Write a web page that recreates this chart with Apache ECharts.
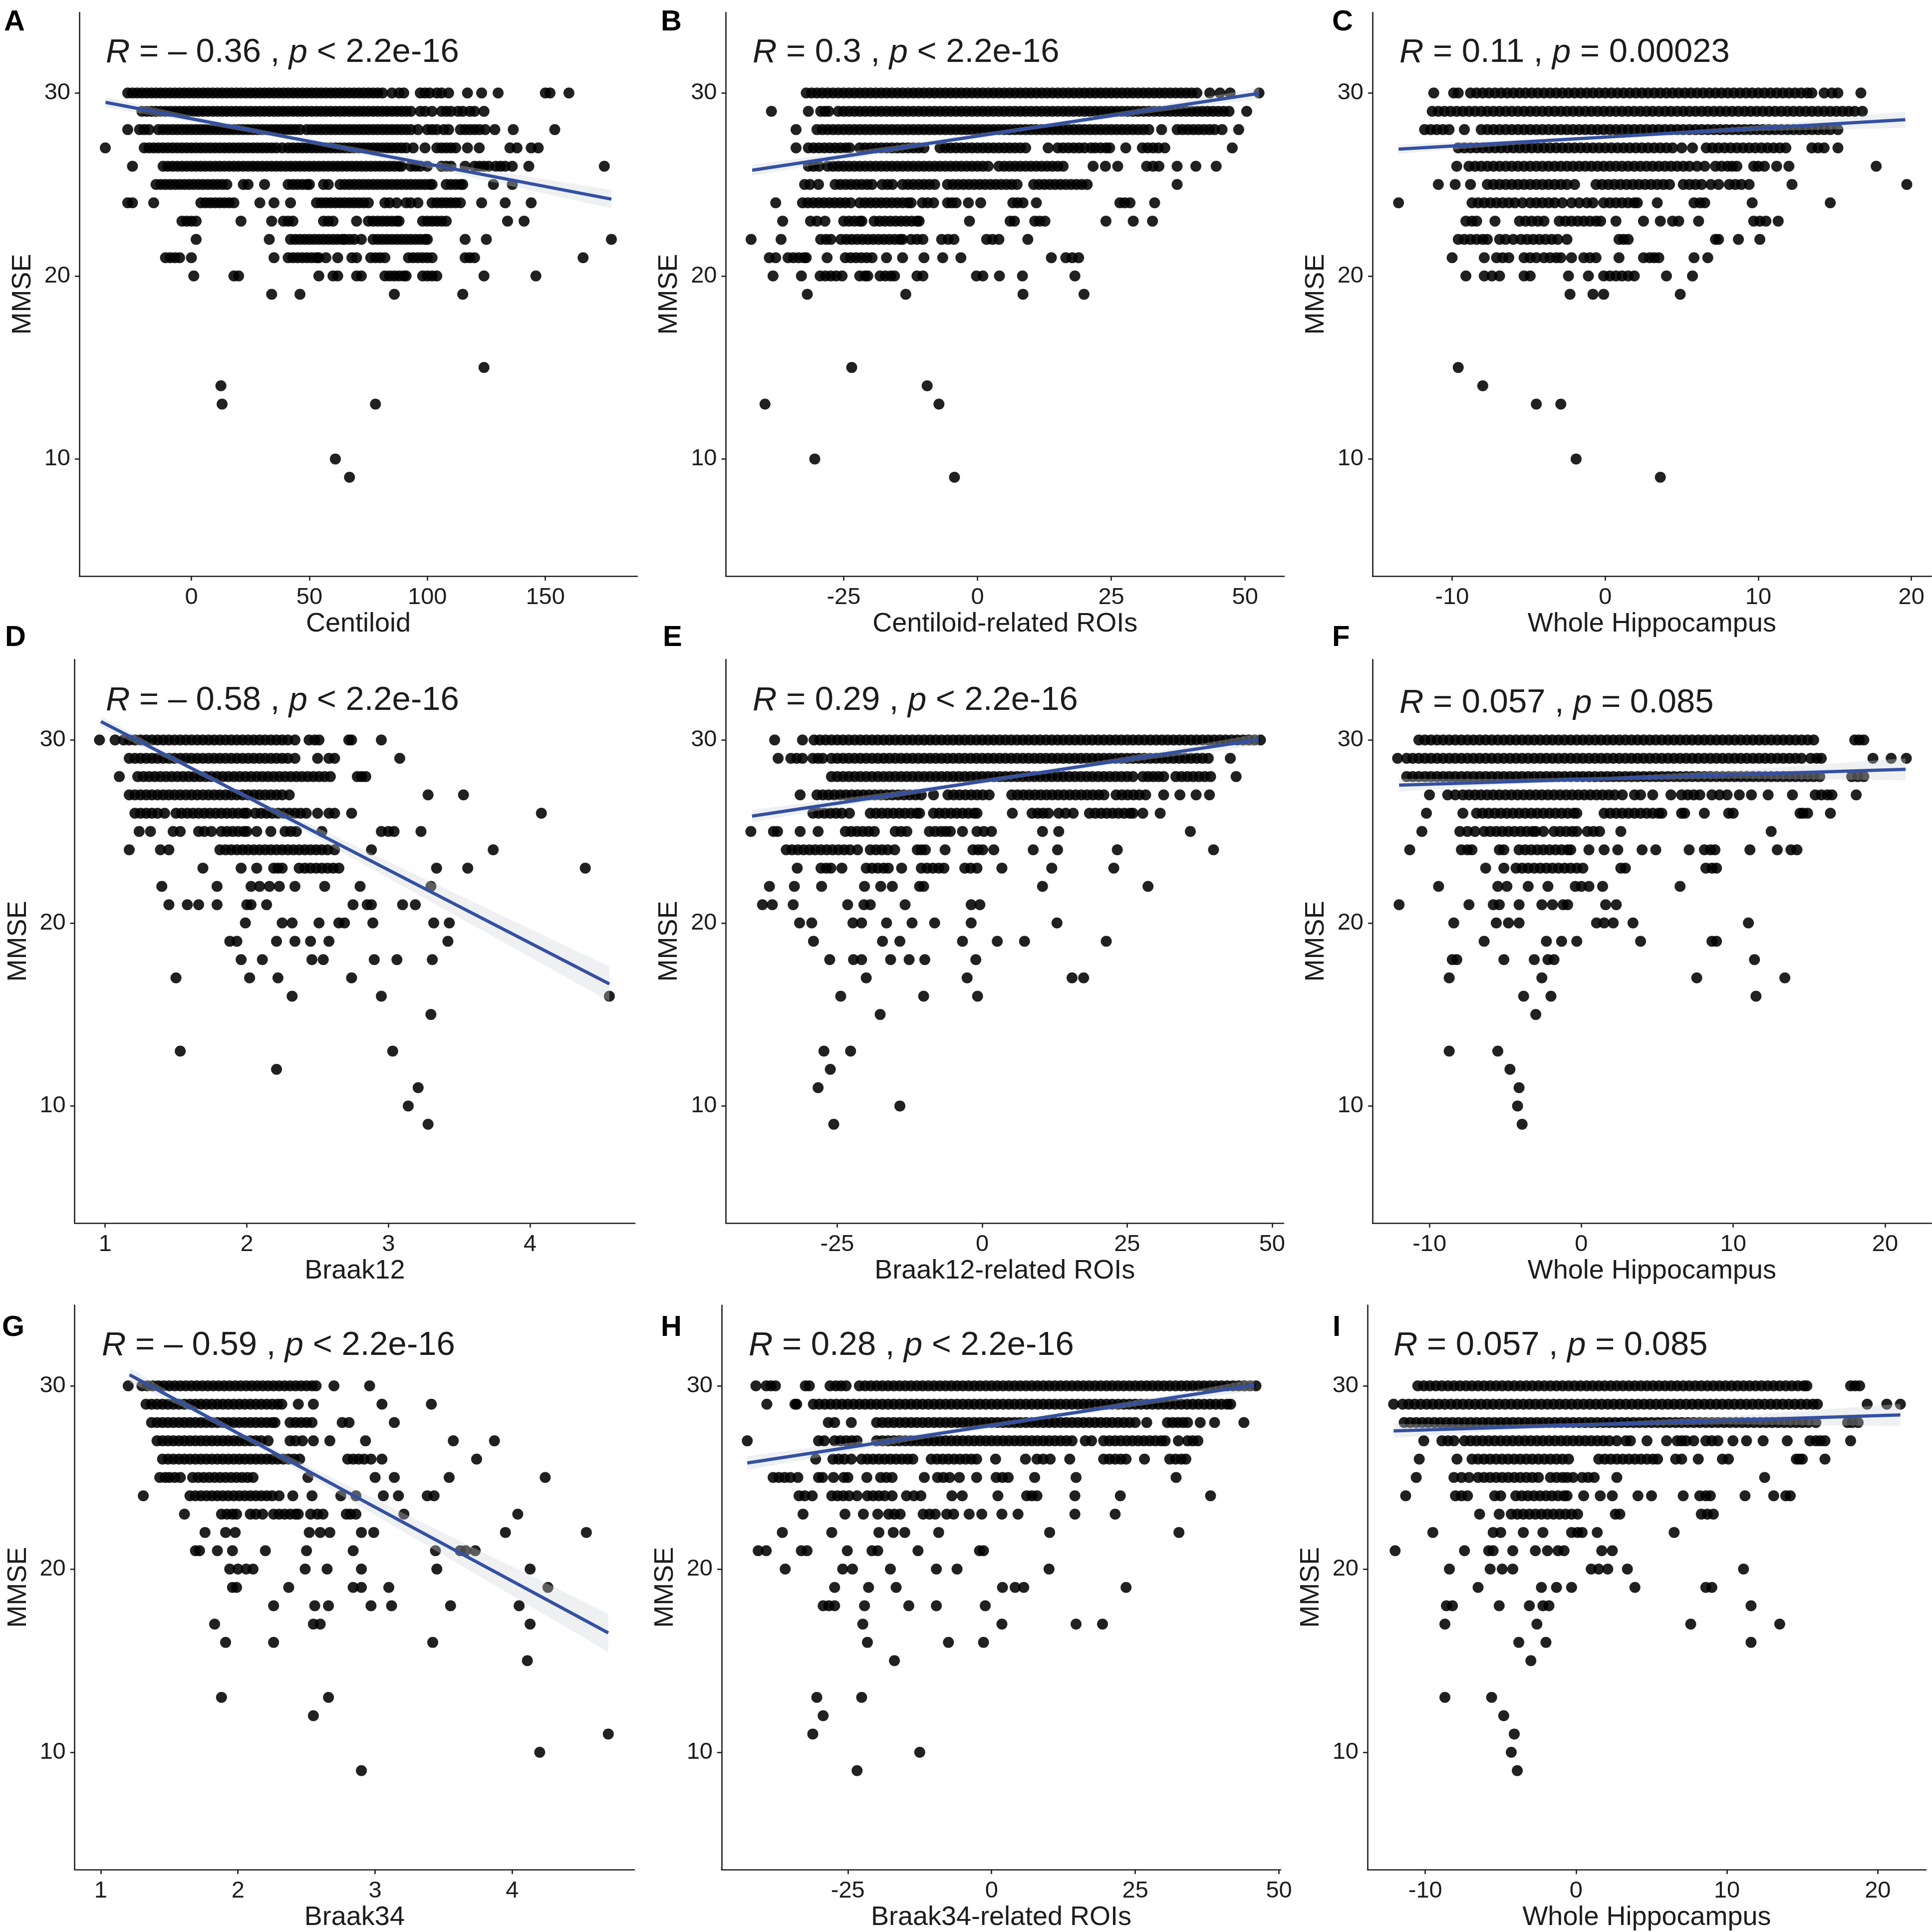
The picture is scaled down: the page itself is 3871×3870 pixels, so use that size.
<!DOCTYPE html>
<html>
<head>
<meta charset="utf-8">
<script src="https://cdn.jsdelivr.net/npm/echarts@6/dist/echarts.min.js"></script>
<style>
  html, body { margin: 0; padding: 0; background: #fff; }
  #chart { width: 3871px; height: 3870px; }
</style>
</head>
<body>
<div id="chart"></div>
<script>
// MMSE vs. imaging measures, panels A-I

const letters = ['A', 'B', 'C', 'D', 'E', 'F', 'G', 'H', 'I'];
const xTitles = ['Centiloid', 'Centiloid-related ROIs', 'Whole Hippocampus',
  'Braak12', 'Braak12-related ROIs', 'Whole Hippocampus',
  'Braak34', 'Braak34-related ROIs', 'Whole Hippocampus'];
const rValues = ['\u2013 0.36', '0.3', '0.11', '\u2013 0.58', '0.29', '0.057', '\u2013 0.59', '0.28', '0.057'];
const pValues = ['< 2.2e-16', '< 2.2e-16', '= 0.00023', '< 2.2e-16', '< 2.2e-16', '= 0.085', '< 2.2e-16', '< 2.2e-16', '= 0.085'];

const xTicks = [[0, 50, 100, 150], [-25, 0, 25, 50], [-10, 0, 10, 20],
  [1, 2, 3, 4], [-25, 0, 25, 50], [-10, 0, 10, 20],
  [1, 2, 3, 4], [-25, 0, 25, 50], [-10, 0, 10, 20]];
const xLimits = [[-47.5, 189], [-47, 57.3], [-15.2, 21.3],
  [0.785, 4.74], [-44.2, 52], [-13.75, 23.05],
  [0.81, 4.89], [-46.95, 50.3], [-13.83, 23.2]];
const mmseTicks = [10, 20, 30];
const mmseLimits = [3.6, 34.4];

// fitted line end points [x0, y0, x1, y1]
const fitLines = [
  [-36.4, 29.49, 178, 24.2],
  [-42.1, 25.78, 52.6, 29.98],
  [-13.5, 26.93, 19.6, 28.54],
  [0.97, 31.01, 4.56, 16.67],
  [-39.7, 25.84, 47.7, 30.02],
  [-12.0, 27.53, 21.35, 28.4],
  [1.21, 30.6, 4.7, 16.52],
  [-42.5, 25.79, 45.7, 30.04],
  [-12.1, 27.54, 21.5, 28.41]
];
// confidence band half width read at a few x positions [x, halfWidth]
const bandWidths = [
  [[-36.4, 0.28], [0, 0.17], [40, 0.12], [100, 0.2], [178, 0.5]],
  [[-42.1, 0.3], [-15, 0.16], [10, 0.11], [30, 0.16], [52.6, 0.3]],
  [[-13.5, 0.25], [-5, 0.12], [2, 0.08], [10, 0.15], [19.6, 0.45]],
  [[0.97, 0.3], [1.5, 0.16], [2, 0.13], [3, 0.45], [4.56, 0.95]],
  [[-39.7, 0.33], [-15, 0.16], [8, 0.11], [30, 0.18], [47.7, 0.32]],
  [[-12, 0.35], [-5, 0.16], [2, 0.1], [10, 0.22], [21.35, 0.6]],
  [[1.21, 0.4], [1.6, 0.2], [2.1, 0.15], [3.2, 0.5], [4.7, 1.05]],
  [[-42.5, 0.38], [-15, 0.17], [8, 0.11], [30, 0.18], [45.7, 0.33]],
  [[-12.1, 0.38], [-5, 0.16], [2, 0.1], [10, 0.22], [21.5, 0.6]]
];

// points: [MMSE, [x values]]
const rowsA = [
  [30, [-27, -25, -23, -21, -19, -17, -15, -13, -11, -9, -7, -5, -3, -1, 1, 3, 5, 7, 9, 11, 13, 15, 17, 19, 21, 23, 25, 27, 29, 31, 33, 35, 37, 39, 41, 43, 45, 47, 49, 51, 53, 55, 57, 59, 61, 63, 65, 67, 69, 71, 73, 75, 77, 79, 81, 85, 88, 90, 97, 99, 101, 104, 106, 109, 117, 123, 130, 150, 152, 160]],
  [29, [-21, -19, -17, -15, -13, -11, -9, -7, -5, -3, -1, 1, 3, 5, 7, 9, 11, 13, 15, 17, 19, 21, 23, 25, 27, 29, 31, 33, 35, 37, 39, 41, 43, 45, 47, 49, 51, 53, 55, 57, 59, 61, 63, 65, 67, 69, 71, 73, 75, 77, 79, 81, 83, 85, 87, 89, 91, 93, 97, 99, 102, 106, 108, 110, 113, 115, 118, 120, 124]],
  [28, [-27, -22, -20, -18, -14, -12, -10, -8, -6, -4, -2, 0, 2, 4, 6, 8, 10, 12, 14, 16, 18, 20, 22, 24, 26, 28, 30, 32, 34, 36, 38, 40, 42, 44, 46, 49, 51, 53, 55, 57, 59, 61, 63, 65, 67, 69, 71, 73, 75, 77, 79, 81, 83, 85, 87, 89, 91, 93, 96, 100, 102, 104, 107, 109, 114, 116, 118, 120, 122, 124.5, 128.6, 136.4, 154]],
  [27, [-36.5, -20, -18, -16, -14, -12, -10, -8, -6, -4, -2, 0, 2, 4, 6, 8, 10, 12, 14, 16, 18, 20, 22, 24, 26, 28, 30, 32, 34, 36, 38.5, 41, 43, 45, 47, 49, 51, 53, 55, 57, 59, 61, 63, 65, 67, 69, 71, 73, 75, 77, 79, 81, 83, 85, 87, 89, 91, 94, 99, 104, 106, 108, 110, 112, 117, 122, 135, 138, 144, 147]],
  [26, [-25, -12, -10, -8, -6, -4, -2, 0, 2, 4, 6, 8, 10, 12, 14, 16, 18, 20, 22, 24, 26, 28, 30, 32, 34, 36, 38, 40, 42, 44, 46, 48, 50, 52, 54, 56, 58, 60, 62, 64, 66, 68, 70, 72, 74, 76, 78, 80, 82, 84, 86, 88, 89, 93, 95, 97, 100, 106, 108, 110, 116, 120, 122, 124, 126, 129, 131, 133, 136, 143, 175]],
  [25, [-15, -13, -11, -9, -7, -5, -3, -1, 1, 3, 5, 7, 9, 11, 13, 15, 22, 24, 31, 41, 43, 45, 47, 49, 50, 56, 58, 63, 65, 67, 69, 71, 73, 75, 77, 79, 81, 83, 85, 87, 89, 91, 93, 95, 97, 99, 101, 102, 108, 110, 112, 114, 115, 128, 136]],
  [24, [-27, -25, -16, 4, 6, 8, 10, 12, 14, 16, 18, 29, 35, 42, 53, 55, 57, 59, 61, 63, 65, 67, 69, 71, 73, 75, 82, 84, 87, 91, 93, 96, 102, 104, 106, 108, 110, 112, 114, 123, 133, 144]],
  [23, [-4, -2, 0, 2, 21, 34, 39, 41, 43, 56, 58, 60, 70, 75, 77, 79, 81, 83, 85, 87, 88, 98, 100, 102, 104, 106, 108, 134, 141]],
  [22, [2, 33, 42, 44, 46, 48, 50, 52, 54, 56, 58, 60, 62, 64, 65, 67, 69, 72, 77, 79, 81, 83, 85, 87, 89, 91, 93, 95, 97, 99, 100, 116, 125, 178]],
  [21, [-11, -9, -7, -5, 0, 35, 41, 43, 45, 47, 49, 51, 53, 54, 57, 62, 68, 70, 76, 78, 80, 82, 92, 94, 96, 98, 100, 102, 116, 118, 120, 166]],
  [20, [1, 18, 20, 54, 60, 62, 70, 72, 82, 84, 86, 88, 90, 91, 98, 100, 102, 104, 124, 146]],
  [19, [34, 46, 86, 115]],
  [15, [124]],
  [14, [12.5]],
  [13, [13, 78]],
  [10, [61]],
  [9, [67]]
];

const rowsB = [
  [30, [-32, -31, -30, -29, -28, -27, -26, -25, -24, -23, -22, -21, -20, -19, -18, -17, -16, -15, -14, -13, -12, -11, -10, -9, -8, -7, -6, -5, -4, -3, -2, -1, 0, 1, 2, 3, 4, 5, 6, 7, 8, 9, 10, 11, 12, 13, 14, 15, 16, 17, 18, 19, 20, 21, 22, 23, 24, 25, 26, 27, 28, 29, 30, 31, 32, 33, 34, 35, 36, 37, 38, 39, 40, 41, 43.4, 45.3, 47.2, 52.6]],
  [29, [-38.5, -31.6, -29.3, -28.5, -27.8, -26, -25, -24, -23, -22, -21, -20, -19, -18, -17, -16, -15, -14, -13, -12, -11, -10, -9, -8, -7, -6, -5, -4, -3, -2, -1, 0, 1, 2, 3, 4, 5, 6, 7, 8, 9, 10, 11, 12, 13, 14, 15, 16, 17, 18, 19, 20, 21, 22, 23, 24, 25, 26, 27, 28, 29, 30, 31, 32, 33, 34, 35, 36, 37, 38, 39, 40, 41, 42, 43, 44, 45, 46, 47, 50.3]],
  [28, [-33.9, -30, -29, -28, -27, -26, -25, -24, -23, -22, -21, -20, -19, -18, -17, -16, -15, -14, -13, -12, -11, -10, -9, -8, -7, -6, -5, -4, -3, -2, -1, 0, 1, 2, 3, 4, 5, 6, 7, 8, 9, 10, 11, 12, 13, 14, 15, 16, 17, 18, 19, 20, 21, 22, 23, 24, 25, 26, 27, 28, 29, 30, 31, 32, 34.4, 37.3, 38.3, 39.3, 40.3, 41.3, 42.3, 43.3, 44.3, 45.7, 48.8]],
  [27, [-33.9, -31.6, -30.6, -29.6, -28.6, -27.6, -26.6, -25.6, -24.6, -23.9, -22, -21, -20, -19, -18, -17, -16, -15, -14, -13, -12, -11, -10, -7, -6, -5, -4, -3, -2, -1, 0, 1, 2, 3, 4, 5, 6, 7, 8, 9, 13.2, 15, 16, 17, 18, 19, 20, 21.2, 22, 23, 24, 24.7, 27.7, 30.8, 31.8, 32.8, 33.8, 35, 47.6]],
  [26, [-31.6, -30.6, -29.6, -28, -27, -26, -25, -24, -23, -22, -21, -20, -19, -18, -17, -16, -15, -14, -13, -12, -11, -10, -9, -8, -7, -6, -5, -4, -3, -2, -1, 0, 1, 2, 4, 5, 6, 7, 8, 9, 10, 11, 12, 13, 14, 15, 16, 21.6, 23.9, 26.2, 31.6, 32.8, 33.9, 37.3, 40.8, 44.6]],
  [25, [-32.3, -31.3, -29.7, -26.6, -25.6, -24.6, -23.6, -22.6, -21.6, -20.6, -19.7, -17.8, -16.8, -15.9, -14, -13, -12, -11, -10, -9, -8, -5.6, -4.6, -3.6, -2.6, -1.6, -0.6, 0.4, 1.4, 2.4, 3.4, 4.4, 5.4, 6.4, 7.4, 10.5, 11.5, 12.5, 13.5, 14.5, 15.5, 16.5, 17.5, 18.5, 19.5, 20.5, 37.3]],
  [24, [-37.7, -32.7, -31.7, -30.7, -29.7, -28.7, -27.7, -26.7, -25.7, -24.7, -23.7, -22, -21, -20, -19, -18, -17, -16, -15, -14, -13, -12.4, -10.3, -9.3, -8.2, -5.6, -4.8, -4, -1.7, 0.6, 6.6, 7.5, 8.5, 11, 26.6, 27.5, 28.5, 33.1]],
  [23, [-36.4, -31.2, -30, -28.5, -25, -24, -23, -22, -21.6, -19.3, -18.3, -17.3, -16.3, -15.3, -14.3, -13.3, -12.3, -11.3, -10.9, -1.5, 6.1, 6.9, 10.7, 11.6, 12.6, 24, 29.1, 32.7]],
  [22, [-42.3, -36.7, -29.3, -28.3, -27.4, -25.5, -24.5, -23.5, -22.5, -21.5, -20.5, -19.5, -18.5, -17.5, -16.5, -15.5, -14.5, -14, -12.4, -11.3, -10.2, -6.7, -5.5, -4.4, 1.7, 2.8, 4, 9.4]],
  [21, [-38.9, -37.7, -35.4, -34.4, -33.4, -32.4, -32, -28.1, -24.7, -23.7, -22.7, -21.7, -20.7, -19.7, -17, -14, -10, -6.5, -3.1, 13.8, 16.5, 17.7, 18.9]],
  [20, [-38.2, -32.9, -29.4, -28.4, -27.4, -26.4, -25.3, -22, -21, -20.5, -18.2, -17.2, -16.2, -15.5, -11.3, -10.2, -0.2, 1, 4.1, 8.4, 18.2]],
  [19, [-31.8, -13.4, 8.5, 19.9]],
  [15, [-23.5]],
  [14, [-9.4]],
  [13, [-39.7, -7.2]],
  [10, [-30.4]],
  [9, [-4.3]]
];

const rowsC = [
  [30, [-11.2, -9.9, -9.6, -8.8, -8.4, -8, -7.6, -7.2, -6.8, -6.4, -6, -5.6, -5.2, -4.8, -4.4, -4, -3.6, -3.2, -2.8, -2.4, -2, -1.6, -1.2, -0.8, -0.4, 0, 0.4, 0.8, 1.2, 1.6, 2, 2.4, 2.8, 3.2, 3.6, 4, 4.4, 4.8, 5.2, 5.6, 6, 6.4, 6.8, 7.2, 7.6, 8, 8.4, 8.8, 9.2, 9.6, 10, 10.4, 10.8, 11.2, 11.6, 12, 12.4, 12.8, 13.2, 13.5, 14.3, 14.8, 15.2, 16.7]],
  [29, [-11.3, -10.9, -10.5, -10.1, -9.7, -9.3, -8.9, -8.5, -8.1, -7.7, -7.3, -6.9, -6.5, -6.1, -5.7, -5.3, -4.9, -4.5, -4.1, -3.7, -3.3, -2.9, -2.5, -2.1, -1.7, -1.3, -0.9, -0.5, -0.1, 0.3, 0.7, 1.1, 1.5, 1.9, 2.3, 2.7, 3.1, 3.5, 3.9, 4.3, 4.7, 5.1, 5.5, 5.9, 6.3, 6.7, 7.1, 7.5, 7.9, 8.3, 8.7, 9.1, 9.5, 9.9, 10.3, 10.7, 11.1, 11.5, 11.9, 12.3, 12.7, 13.1, 13.5, 13.9, 14.3, 14.7, 15.1, 15.5, 15.9, 16.3, 16.8]],
  [28, [-11.8, -11.4, -11, -10.6, -10.2, -9.2, -8.1, -7.7, -7.3, -6.9, -6.5, -6.1, -5.7, -5.3, -4.9, -4.5, -4.1, -3.7, -3.3, -2.9, -2.5, -2.1, -1.7, -1.3, -0.9, -0.5, -0.1, 0.3, 0.7, 1.1, 1.5, 1.9, 2.3, 2.7, 3.1, 3.5, 3.9, 4.3, 4.7, 5.1, 5.5, 5.9, 6.3, 6.7, 7.1, 7.5, 7.9, 8.3, 8.7, 9.1, 9.5, 9.9, 10.3, 10.7, 11.1, 11.5, 11.9, 12.3, 12.7, 13.1, 13.5, 13.9, 14.3, 14.7, 15.2]],
  [27, [-9.6, -9.2, -8.8, -8.4, -8, -7.6, -7.2, -6.8, -6.4, -6, -5.6, -5.2, -4.8, -4.4, -4, -3.6, -3.2, -2.8, -2.4, -2, -1.6, -1.2, -0.8, -0.4, 0, 0.4, 0.8, 1.2, 1.6, 2, 2.4, 2.8, 3.2, 3.6, 4, 4.4, 5, 5.7, 6.6, 7, 7.4, 7.8, 8.2, 8.6, 9, 9.4, 9.8, 10.2, 10.6, 11, 11.4, 11.8, 13.5, 13.9, 14.3, 15.2]],
  [26, [-9.7, -8.9, -8.5, -8.1, -7.7, -7.3, -6.9, -6.5, -6.1, -5.7, -5.3, -4.9, -4.5, -4.1, -3.7, -3.3, -2.9, -2.5, -2.1, -1.7, -1.3, -0.9, -0.5, -0.1, 0.3, 0.7, 1.1, 1.5, 1.9, 2.3, 2.7, 3.1, 3.5, 3.9, 4.3, 4.7, 5.1, 5.5, 6, 6.5, 7.2, 7.6, 8, 8.3, 8.6, 9.7, 10, 10.4, 11.2, 12, 17.7]],
  [25, [-10.9, -9.8, -8.8, -7.7, -7.3, -6.9, -6.5, -6.1, -5.7, -5.3, -4.9, -4.5, -4.1, -3.7, -3.3, -2.9, -2.5, -2, -0.6, -0.2, 0.2, 0.6, 1, 1.4, 1.8, 2.2, 2.6, 3, 3.4, 3.8, 4.2, 5.1, 5.5, 5.9, 6.3, 6.9, 7.4, 8.1, 8.5, 8.9, 9.4, 12.2, 19.7]],
  [24, [-13.5, -8.7, -8.3, -7.9, -7.5, -7.1, -6.7, -6.3, -5.9, -5.4, -4.9, -4.5, -4.1, -3.7, -3.3, -2.8, -2.2, -1.7, -1.2, -0.8, -0.1, 0.3, 0.7, 1.1, 1.5, 1.9, 2.1, 3.4, 5.8, 6.2, 6.5, 9.6, 14.7]],
  [23, [-9.1, -8.7, -8.4, -7.2, -5.6, -5.2, -4.8, -4.4, -4, -3, -2.6, -2.2, -1.8, -1.4, -1, -0.6, -0.3, 0.7, 2.5, 3.6, 4.4, 4.8, 6.1, 9.7, 10.1, 10.5, 11.3]],
  [22, [-9.6, -9.2, -8.8, -8.4, -8, -7.7, -6.9, -6.5, -6, -5.5, -5.1, -4.7, -4.3, -3.9, -3.5, -3.1, -2.5, 0.9, 1.2, 1.5, 7.2, 7.4, 8.7, 10.1]],
  [21, [-10, -7.9, -7.1, -6.7, -6.3, -5.3, -4.9, -4.5, -4, -3.6, -3.2, -2.9, -2.2, -1.4, -1, -0.6, 0.9, 2.5, 2.9, 3.2, 3.5, 5.8, 6.7]],
  [20, [-9.1, -7.9, -7.4, -6.9, -5.3, -4.9, -2.4, -1.1, -0.1, 0.3, 0.7, 1.1, 1.5, 1.9, 4, 5.7]],
  [19, [-2.3, -0.8, -0.1, 4.9]],
  [15, [-9.6]],
  [14, [-8]],
  [13, [-4.5, -2.9]],
  [10, [-1.9]],
  [9, [3.6]]
];

const rowsD = [
  [30, [0.96, 1.07, 1.13, 1.17, 1.21, 1.25, 1.29, 1.33, 1.37, 1.41, 1.45, 1.49, 1.53, 1.57, 1.61, 1.65, 1.69, 1.73, 1.77, 1.81, 1.85, 1.89, 1.93, 1.97, 2.01, 2.05, 2.09, 2.13, 2.17, 2.21, 2.25, 2.29, 2.34, 2.44, 2.48, 2.51, 2.72, 2.74, 2.95]],
  [29, [1.17, 1.21, 1.25, 1.29, 1.33, 1.37, 1.41, 1.45, 1.49, 1.53, 1.57, 1.61, 1.65, 1.69, 1.73, 1.77, 1.81, 1.85, 1.89, 1.93, 1.97, 2.01, 2.05, 2.09, 2.13, 2.17, 2.21, 2.25, 2.29, 2.34, 2.5, 2.58, 2.62, 3.08]],
  [28, [1.1, 1.23, 1.27, 1.31, 1.35, 1.39, 1.43, 1.47, 1.51, 1.55, 1.59, 1.63, 1.67, 1.71, 1.75, 1.79, 1.83, 1.87, 1.91, 1.95, 1.99, 2.03, 2.07, 2.11, 2.15, 2.19, 2.23, 2.27, 2.31, 2.35, 2.39, 2.43, 2.47, 2.51, 2.55, 2.59, 2.78, 2.81, 2.84]],
  [27, [1.17, 1.21, 1.25, 1.29, 1.33, 1.37, 1.41, 1.45, 1.49, 1.53, 1.57, 1.61, 1.65, 1.69, 1.73, 1.77, 1.81, 1.85, 1.89, 1.93, 1.97, 2.01, 2.05, 2.09, 2.13, 2.17, 2.21, 2.25, 2.3, 3.28, 3.53]],
  [26, [1.21, 1.25, 1.29, 1.33, 1.37, 1.42, 1.5, 1.54, 1.58, 1.62, 1.66, 1.7, 1.74, 1.78, 1.82, 1.86, 1.9, 1.94, 1.98, 2, 2.06, 2.1, 2.14, 2.18, 2.22, 2.26, 2.3, 2.34, 2.38, 2.42, 2.5, 2.58, 2.62, 2.74, 4.08]],
  [25, [1.24, 1.32, 1.48, 1.53, 1.66, 1.7, 1.75, 1.82, 1.86, 1.9, 1.94, 1.98, 2, 2.07, 2.17, 2.27, 2.31, 2.35, 2.53, 2.95, 3, 3.04, 3.23]],
  [24, [1.17, 1.39, 1.45, 1.81, 1.85, 1.89, 1.93, 1.97, 2.01, 2.05, 2.09, 2.13, 2.17, 2.21, 2.25, 2.29, 2.33, 2.37, 2.41, 2.45, 2.49, 2.53, 2.57, 2.62, 2.88, 3.74]],
  [23, [1.69, 1.96, 2.07, 2.19, 2.22, 2.25, 2.37, 2.41, 2.45, 2.49, 2.53, 2.57, 2.61, 2.65, 3.34, 3.56, 4.39]],
  [22, [1.4, 1.79, 2.03, 2.09, 2.16, 2.23, 2.34, 2.55, 2.8, 3.3]],
  [21, [1.45, 1.58, 1.66, 1.79, 2, 2.03, 2.14, 2.75, 2.85, 2.88, 3.1, 3.19]],
  [20, [1.99, 2.25, 2.32, 2.51, 2.65, 2.69, 2.89, 3.32, 3.43]],
  [19, [1.88, 1.93, 2.21, 2.34, 2.45, 2.58, 3.42]],
  [18, [1.96, 2.11, 2.46, 2.54, 2.9, 3.06, 3.31]],
  [17, [1.5, 2.02, 2.22, 2.74]],
  [16, [2.32, 2.95, 4.56]],
  [15, [3.3]],
  [13, [1.53, 3.03]],
  [12, [2.21]],
  [11, [3.21]],
  [10, [3.14]],
  [9, [3.28]]
];

const rowsE = [
  [30, [-35.8, -31, -29, -28, -27, -26, -25, -24, -23, -22, -21, -20, -19, -18, -17, -16, -15, -14, -13, -12, -11, -10, -9, -8, -7, -6, -5, -4, -3, -2, -1, 0, 1, 2, 3, 4, 5, 6, 7, 8, 9, 10, 11, 12, 13, 14, 15, 16, 17, 18, 19, 20, 21, 22, 23, 24, 25, 26, 27, 28, 29, 30, 31, 32, 33, 34, 35, 36, 37, 38, 39, 40, 41, 42, 43, 44, 45, 46, 47, 48]],
  [29, [-35.2, -33, -32, -31, -29.2, -28.3, -27.5, -26, -25, -24, -23, -22, -21, -20, -19, -18, -17, -16, -15, -14, -13, -12, -11, -10, -9, -8, -7, -6, -5, -4, -3, -2, -1, 0, 1, 2, 3, 4, 5, 6, 7, 8, 9, 10, 11, 12, 13, 14, 15, 16, 17, 18, 19, 20, 21, 22, 23, 24, 25, 26, 27, 28, 29, 30, 31, 32, 33, 34, 35, 36, 37, 38, 39, 42.8]],
  [28, [-26, -25, -24, -23, -22, -21, -20, -19, -18, -17, -16, -15, -14, -13, -12, -11, -10, -9, -8, -7, -6, -5, -4, -3, -2, -1, 0, 1, 2, 3, 4, 5, 6, 7, 8, 9, 10, 11, 12, 13, 14, 15, 16, 17, 18, 19, 20, 21, 22, 23, 24, 25, 26, 27.7, 28.6, 29.5, 30.4, 31.3, 33.4, 34.4, 35.4, 36.4, 37.4, 38.4, 39.4, 43.8]],
  [27, [-31.4, -28.5, -27.5, -26.5, -25.5, -24.5, -23.5, -22.5, -21.5, -20.5, -19.5, -18.5, -17.5, -16.5, -15.5, -14.5, -13.5, -12.5, -11.5, -10.5, -8.4, -5.9, -4.9, -3.9, -2.9, -1.9, -0.9, 0.1, 1.2, 5.1, 6.1, 7.1, 8.1, 9.1, 10.1, 11.1, 12.1, 13.1, 14.1, 15.1, 16.1, 17.1, 18.1, 19.1, 20.1, 21, 23.1, 24.1, 25.1, 26.1, 27.1, 28.2, 31.3, 34.1, 36.9, 39.2]],
  [26, [-29.2, -28.2, -27.2, -26.2, -25.2, -24.2, -22.9, -19.3, -18.3, -17.3, -16.3, -15.3, -14.3, -13.3, -12.3, -11.3, -10.8, -8.4, -7.4, -6.4, -5.4, -4.4, -3.4, -2.4, -1.4, -0.9, 5.2, 8.6, 9.6, 10.5, 11.4, 13.2, 14.4, 15.7, 18.5, 19.5, 20.5, 21.5, 22.5, 23.5, 24.5, 25.5, 26, 27.7, 30.7]],
  [25, [-39.9, -36, -35.3, -31.4, -28.3, -23.6, -22.6, -21.6, -20.6, -19.6, -18.6, -15, -14, -13, -9.1, -8.1, -7.1, -6.3, -5.5, -3.4, -0.9, 0.3, 1.6, 10.4, 13.2, 35.9]],
  [24, [-33.8, -32.8, -31.8, -30.8, -29.8, -28.8, -27.8, -26.8, -25.8, -24.8, -23.8, -22.8, -21.5, -19.3, -18.3, -17.3, -16.3, -15.1, -11.2, -10.5, -9.8, -6.4, -1.6, -0.7, 0.1, 2, 8.8, 13, 23.3, 39.9]],
  [23, [-31.9, -27.8, -26.9, -26.1, -24.2, -20, -19, -18, -17, -16.2, -13.9, -10.5, -9.5, -8.5, -7.5, -6.6, -3, -2, -0.9, 3.4, 12, 22.7]],
  [22, [-36.7, -32.4, -27.7, -20.3, -17.5, -15.5, -10.8, -10.1, 10.4, 28.6]],
  [21, [-37.9, -36.2, -32.6, -23.2, -20.4, -19.3, -13.3, -1.9, -0.4]],
  [20, [-31.5, -29.4, -22.3, -20.8, -16.5, -12.1, -8.2, -1.9, 12.9]],
  [19, [-29.1, -17.2, -14.2, -3.4, 2.6, 7.3, 21.4]],
  [18, [-26.3, -22.2, -20.8, -15.8, -12.6, -9.9, -1.1]],
  [17, [-20, -2.6, 15.5, 17.5]],
  [16, [-24.4, -10.1, -0.8]],
  [15, [-17.6]],
  [13, [-27.3, -22.7]],
  [12, [-26.2]],
  [11, [-28.3]],
  [10, [-14.2]],
  [9, [-25.6]]
];

const rowsF = [
  [30, [-10.7, -10.3, -9.9, -9.5, -9.1, -8.7, -8.3, -7.9, -7.5, -7.1, -6.7, -6.3, -5.9, -5.5, -5.1, -4.7, -4.3, -3.9, -3.5, -3.1, -2.7, -2.3, -1.9, -1.5, -1.1, -0.7, -0.3, 0.1, 0.5, 0.9, 1.3, 1.7, 2.1, 2.5, 2.9, 3.3, 3.7, 4.1, 4.5, 4.9, 5.3, 5.7, 6.1, 6.5, 6.9, 7.3, 7.7, 8.1, 8.5, 8.9, 9.3, 9.7, 10.1, 10.5, 10.9, 11.3, 11.7, 12.1, 12.5, 12.9, 13.3, 13.7, 14.1, 14.5, 14.9, 15.3, 18, 18.3, 18.6]],
  [29, [-12.1, -11.5, -11.1, -10.7, -10.3, -9.9, -9.5, -9.1, -8.7, -8.3, -7.9, -7.5, -7.1, -6.7, -6.3, -5.9, -5.5, -5.1, -4.7, -4.3, -3.9, -3.5, -3.1, -2.7, -2.3, -1.9, -1.5, -1.1, -0.7, -0.3, 0.1, 0.5, 0.9, 1.3, 1.7, 2.1, 2.5, 2.9, 3.3, 3.7, 4.1, 4.5, 4.9, 5.3, 5.7, 6.1, 6.5, 6.9, 7.3, 7.7, 8.1, 8.5, 8.9, 9.3, 9.7, 10.1, 10.5, 10.9, 11.3, 11.7, 12.1, 12.5, 12.9, 13.3, 13.7, 14.1, 14.5, 15.1, 15.5, 15.8, 19.2, 20.4, 21.4]],
  [28, [-11.5, -11.1, -10.7, -10.3, -9.9, -9.5, -9.1, -8.7, -8.3, -7.9, -7.5, -7.1, -6.7, -6.3, -5.9, -5.5, -5.1, -4.7, -4.3, -3.9, -3.5, -3.1, -2.7, -2.3, -1.9, -1.5, -1.1, -0.7, -0.3, 0.1, 0.5, 0.9, 1.3, 1.7, 2.1, 2.5, 2.9, 3.3, 3.7, 4.1, 4.5, 4.9, 5.3, 5.7, 6.1, 6.5, 6.9, 7.3, 7.7, 8.1, 8.5, 8.9, 9.3, 9.7, 10.1, 10.5, 10.9, 11.3, 11.7, 12.1, 12.5, 12.9, 13.3, 13.7, 14.1, 14.5, 14.9, 15.3, 15.7, 17.8, 18.2, 18.6]],
  [27, [-10, -8.8, -8.3, -7.8, -7.4, -7, -6.6, -6.2, -5.8, -5.4, -5, -4.6, -4.2, -3.8, -3.4, -3, -2.6, -2.2, -1.8, -1.4, -1, -0.6, -0.2, 0.2, 0.6, 1, 1.4, 1.8, 2.2, 2.7, 3.5, 3.9, 4.7, 5.9, 6.6, 7, 7.4, 7.8, 8.6, 9.1, 9.6, 10.4, 11.2, 12.3, 13.9, 15.4, 15.8, 16.2, 16.5, 18.1]],
  [26, [-10.2, -7.8, -6.9, -6.5, -6.1, -5.7, -5.3, -4.9, -4.5, -4.1, -3.7, -3.3, -2.9, -2.5, -2.1, -1.7, -1.3, -0.9, -0.5, -0.3, 1.5, 1.9, 2.3, 2.7, 3.1, 3.5, 3.9, 4.3, 4.7, 5.1, 5.3, 6.6, 6.8, 8.1, 9.7, 10, 14.4, 14.6, 14.9, 16.4]],
  [25, [-10.5, -8, -7.5, -7, -6.4, -6, -5.6, -5.2, -4.8, -4.4, -4, -3.6, -3.2, -3, -2.5, -1.8, -1.4, -1, -0.6, -0.3, 0.4, 0.8, 1.2, 2.6, 12.5]],
  [24, [-11.3, -7.9, -7.5, -7.2, -5.4, -5.1, -4.1, -3.7, -3.3, -2.9, -2.5, -2.1, -1.7, -1.3, -0.9, -0.7, 0.5, 1.5, 2.4, 4, 4.9, 7.1, 8.1, 8.5, 8.8, 11.1, 12.9, 13.8, 14.2]],
  [23, [-6.3, -5.1, -4.3, -3.9, -3.5, -3.1, -2.7, -2.3, -1.9, -1.5, -1.1, -0.7, -0.3, 0.1, 2.6, 2.9, 8.2, 8.6, 8.9]],
  [22, [-9.4, -5.5, -4.9, -3.5, -2.2, -0.4, 0, 0.5, 1.4, 6.5]],
  [21, [-12, -7.4, -5.8, -5.4, -4.1, -2.6, -1.9, -1.2, -0.9, 1.6, 2.3]],
  [20, [-8.4, -5.6, -4.8, -4.1, 1, 1.5, 2.1, 3.4, 11]],
  [19, [-6.4, -2.3, -1.3, -0.3, 3.9, 8.6, 8.9]],
  [18, [-8.5, -8.2, -5.1, -3.1, -2.2, -1.8, 11.4]],
  [17, [-8.7, -2.6, 7.6, 13.4]],
  [16, [-3.8, -2, 11.5]],
  [15, [-3]],
  [13, [-8.7, -5.5]],
  [12, [-4.7]],
  [11, [-4.1]],
  [10, [-4.2]],
  [9, [-3.9]]
];

const rowsG = [
  [30, [1.2, 1.3, 1.34, 1.38, 1.42, 1.46, 1.5, 1.54, 1.58, 1.62, 1.66, 1.7, 1.74, 1.78, 1.82, 1.86, 1.9, 1.94, 1.98, 2.02, 2.06, 2.1, 2.14, 2.18, 2.22, 2.26, 2.3, 2.34, 2.38, 2.42, 2.46, 2.5, 2.54, 2.57, 2.7, 2.96]],
  [29, [1.33, 1.37, 1.41, 1.45, 1.49, 1.53, 1.57, 1.61, 1.65, 1.69, 1.73, 1.77, 1.81, 1.85, 1.89, 1.93, 1.97, 2.01, 2.05, 2.09, 2.13, 2.17, 2.21, 2.25, 2.29, 2.32, 2.44, 2.55, 3.05, 3.41]],
  [28, [1.37, 1.41, 1.45, 1.49, 1.53, 1.57, 1.61, 1.65, 1.69, 1.73, 1.77, 1.81, 1.85, 1.89, 1.93, 1.97, 2.01, 2.05, 2.09, 2.13, 2.17, 2.21, 2.25, 2.27, 2.38, 2.42, 2.46, 2.5, 2.54, 2.76, 2.81, 3.14]],
  [27, [1.41, 1.45, 1.49, 1.53, 1.57, 1.61, 1.65, 1.69, 1.73, 1.77, 1.81, 1.85, 1.89, 1.93, 1.97, 2.01, 2.05, 2.09, 2.13, 2.17, 2.22, 2.38, 2.42, 2.47, 2.55, 2.67, 2.93, 3.57, 3.87]],
  [26, [1.45, 1.49, 1.53, 1.57, 1.61, 1.65, 1.69, 1.73, 1.77, 1.81, 1.85, 1.89, 1.93, 1.97, 2.01, 2.05, 2.09, 2.13, 2.17, 2.21, 2.25, 2.29, 2.33, 2.37, 2.41, 2.45, 2.8, 2.84, 2.88, 2.92, 2.97, 3.05, 3.74]],
  [25, [1.43, 1.47, 1.5, 1.54, 1.58, 1.67, 1.71, 1.75, 1.79, 1.83, 1.87, 1.91, 1.95, 1.99, 2.03, 2.07, 2.11, 2.51, 3, 3.14, 3.54, 4.24]],
  [24, [1.31, 1.65, 1.69, 1.73, 1.77, 1.81, 1.85, 1.89, 1.93, 1.97, 2.01, 2.05, 2.09, 2.13, 2.17, 2.21, 2.25, 2.3, 2.4, 2.54, 2.75, 2.86, 3.06, 3.17, 3.38, 3.43]],
  [23, [1.61, 1.88, 1.92, 1.96, 1.99, 2.09, 2.13, 2.18, 2.26, 2.3, 2.34, 2.38, 2.42, 2.44, 2.53, 2.58, 2.62, 2.79, 2.82, 2.86, 3.21, 4.04]],
  [22, [1.76, 1.91, 1.98, 2.52, 2.6, 2.67, 2.9, 2.99, 3.95, 4.54]],
  [21, [1.69, 1.72, 1.85, 1.96, 2.2, 2.5, 2.84, 3.44, 3.62, 3.66, 3.73]],
  [20, [1.94, 2, 2.06, 2.11, 2.49, 2.65, 2.9, 3.45, 4.13]],
  [19, [1.96, 1.99, 2.37, 2.84, 2.9, 3.1, 4.26]],
  [18, [2.26, 2.56, 2.66, 2.97, 3.12, 3.55, 4.05]],
  [17, [1.83, 2.55, 2.6, 4.13]],
  [16, [1.91, 2.26, 3.42]],
  [15, [4.11]],
  [13, [1.88, 2.66]],
  [12, [2.55]],
  [11, [4.7]],
  [10, [4.2]],
  [9, [2.9]]
];

const rowsH = [
  [30, [-41, -39.2, -38.4, -37.6, -32.4, -31.7, -28.1, -27.1, -26.2, -25.3, -23, -22, -21, -20, -19, -18, -17, -16, -15, -14, -13, -12, -11, -10, -9, -8, -7, -6, -5, -4, -3, -2, -1, 0, 1, 2, 3, 4, 5, 6, 7, 8, 9, 10, 11, 12, 13, 14, 15, 16, 17, 18, 19, 20, 21, 22, 23, 24, 25, 26, 27, 28, 29, 30, 31, 32, 33, 34, 35, 36, 37, 38, 39, 40, 41, 42, 43, 44, 45, 46]],
  [29, [-39.1, -34.2, -33.9, -31, -30, -29, -28, -27, -26, -25, -24, -23, -22, -21, -20, -19, -18, -17, -16, -15, -14, -13, -12, -11, -10, -9, -8, -7, -6, -5, -4, -3, -2, -1, 0, 1, 2, 3, 4, 5, 6, 7, 8, 9, 10, 11, 12, 13, 14, 15, 16, 17, 18, 19, 20, 21, 22, 23, 24, 25, 26, 27, 28, 29, 30, 31, 32, 33, 34, 35, 36, 37, 38, 39, 40, 41, 41.6]],
  [28, [-28.4, -27.3, -24.4, -20, -19, -18, -17, -16, -15, -14, -13, -12, -11, -10, -9, -8, -7, -6, -5, -4, -3, -2, -1, 0, 1, 2, 3, 4, 5, 6, 7, 8, 9, 10, 11, 12, 13, 14, 15, 16, 17, 18, 19, 20, 21, 22, 23, 24, 25, 27, 30.6, 31.5, 32.4, 33.3, 34.1, 36.3, 38.8, 43.9]],
  [27, [-42.5, -30.1, -29.1, -27.3, -26.3, -25.3, -24.3, -23.4, -20, -19, -18, -17, -16, -15, -14, -13, -12, -11, -10, -9, -8, -7, -6, -5, -4, -3, -2, -1, 0, 1, 2, 3, 4, 5, 6, 7, 8, 9, 10, 11, 12, 13, 14, 16.3, 17.4, 19.5, 20.5, 21.5, 22.5, 23.5, 24.5, 25.5, 26.5, 27.5, 28.5, 29.5, 30.2, 32.5, 34.1, 35, 35.9]],
  [26, [-30.6, -27.6, -26.6, -25.6, -24.4, -22.6, -21.6, -20.6, -19.6, -18.6, -17.6, -16.6, -15.6, -14.6, -13.7, -10.5, -9.5, -8.5, -7.5, -6.5, -5.5, -4.5, -3.5, -2.6, 0.7, 5.9, 7.9, 9, 10.2, 13.6, 19.5, 20.5, 21.5, 22.5, 23.4, 26.6, 31, 32, 33, 33.8]],
  [25, [-38, -37, -36, -35, -33.7, -30.1, -29.4, -27.5, -25.7, -25, -21.7, -19.3, -18.3, -17.3, -11.7, -9.4, -8.4, -7.3, -5.6, -2.6, 0.8, 1.9, 2.9, 7.5, 14.7, 32.1]],
  [24, [-33.5, -32.5, -31.2, -27.8, -26.8, -25.8, -24.8, -23.4, -21.6, -20.6, -19.6, -18.6, -17.3, -14.8, -13.5, -12.3, -6.9, -5.1, 1.1, 6.1, 7, 7.9, 14.5, 22.4, 38.1]],
  [23, [-32.8, -25.5, -22.3, -19.8, -17.9, -16.9, -15.9, -11.9, -10.8, -9.8, -7.8, -6.6, -3.9, -1.7, 1.8, 4.6, 14.5, 21.5]],
  [22, [-36.4, -27.8, -19.6, -17.1, -15.1, -9.2, 10.1, 32.6]],
  [21, [-40.6, -39.2, -33.1, -32.1, -25.1, -20.8, -19.8, -12.8, -2.1, -1.4]],
  [20, [-35.9, -25.9, -24.2, -17.6, -9.6, -6, 10]],
  [19, [-27.3, -21.4, -16.6, 1.9, 4.1, 5.6, 23.4]],
  [18, [-29.3, -28.3, -27.3, -22.1, -14.4, -9.6, -1.1]],
  [17, [-22.4, 1.8, 14.7, 19.3]],
  [16, [-21.6, -7.5, -1.4]],
  [15, [-16.9]],
  [13, [-30.4, -22.6]],
  [12, [-29.3]],
  [11, [-31.1]],
  [10, [-12.5]],
  [9, [-23.4]]
];

const rowsI = [
  [30, [-10.5, -10.1, -9.7, -9.3, -8.9, -8.5, -8.1, -7.7, -7.3, -6.9, -6.5, -6.1, -5.7, -5.3, -4.9, -4.5, -4.1, -3.7, -3.3, -2.9, -2.5, -2.1, -1.7, -1.3, -0.9, -0.5, -0.1, 0.3, 0.7, 1.1, 1.5, 1.9, 2.3, 2.7, 3.1, 3.5, 3.9, 4.3, 4.7, 5.1, 5.5, 5.9, 6.3, 6.7, 7.1, 7.5, 7.9, 8.3, 8.7, 9.1, 9.5, 9.9, 10.3, 10.7, 11.1, 11.5, 11.9, 12.3, 12.7, 13.1, 13.5, 13.9, 14.3, 14.7, 15.1, 15.3, 18.2, 18.5, 18.8]],
  [29, [-12.1, -11.5, -11.1, -10.7, -10.3, -9.9, -9.5, -9.1, -8.7, -8.3, -7.9, -7.5, -7.1, -6.7, -6.3, -5.9, -5.5, -5.1, -4.7, -4.3, -3.9, -3.5, -3.1, -2.7, -2.3, -1.9, -1.5, -1.1, -0.7, -0.3, 0.1, 0.5, 0.9, 1.3, 1.7, 2.1, 2.5, 2.9, 3.3, 3.7, 4.1, 4.5, 4.9, 5.3, 5.7, 6.1, 6.5, 6.9, 7.3, 7.7, 8.1, 8.5, 8.9, 9.3, 9.7, 10.1, 10.5, 10.9, 11.3, 11.7, 12.1, 12.5, 12.9, 13.3, 13.7, 14.1, 14.5, 14.9, 15.3, 15.7, 16, 19.3, 20.6, 21.5]],
  [28, [-11.4, -11, -10.6, -10.2, -9.8, -9.4, -9, -8.6, -8.2, -7.8, -7.4, -7, -6.6, -6.2, -5.8, -5.4, -5, -4.6, -4.2, -3.8, -3.4, -3, -2.6, -2.2, -1.8, -1.4, -1, -0.6, -0.2, 0.2, 0.6, 1, 1.4, 1.8, 2.2, 2.6, 3, 3.4, 3.8, 4.2, 4.6, 5, 5.4, 5.8, 6.2, 6.6, 7, 7.4, 7.8, 8.2, 8.6, 9, 9.4, 9.8, 10.2, 10.6, 11, 11.4, 11.8, 12.2, 12.6, 13, 13.4, 13.8, 14.2, 14.6, 15, 15.4, 15.9, 18, 18.3, 18.7]],
  [27, [-10.1, -8.9, -8.5, -8.1, -7.4, -7, -6.6, -6.2, -5.8, -5.4, -5, -4.6, -4.2, -3.8, -3.4, -3, -2.6, -2.2, -1.8, -1.4, -1, -0.6, -0.2, 0.2, 0.6, 1, 1.4, 1.8, 2.2, 2.7, 3.3, 3.6, 4.7, 6, 6.7, 7, 7.3, 7.8, 8.6, 9, 9.4, 10.4, 11.3, 12.4, 14, 15.5, 15.9, 16.2, 16.5, 18.2]],
  [26, [-10.4, -7.9, -6.9, -6.5, -6.1, -5.7, -5.3, -4.9, -4.5, -4.1, -3.7, -3.3, -2.9, -2.5, -2.1, -1.7, -1.3, -0.9, -0.5, 1.5, 1.9, 2.3, 2.7, 3.1, 3.5, 3.9, 4.3, 4.7, 5.1, 5.4, 6.6, 7, 8.1, 9.7, 10.1, 14.6, 14.8, 15, 16.5]],
  [25, [-10.6, -8.1, -7.6, -7.1, -6.5, -6.1, -5.7, -5.3, -4.9, -4.5, -4.1, -3.7, -3.3, -2.9, -2.5, -1.7, -1.3, -0.9, -0.6, -0.2, 0.4, 0.8, 1.2, 2.7, 12.5]],
  [24, [-11.3, -8, -7.6, -7.2, -5.4, -5, -4, -3.6, -3.2, -2.8, -2.4, -2, -1.6, -1.2, -0.8, -0.6, 0.5, 1.6, 2.4, 4.1, 5, 7.1, 8.2, 8.6, 8.9, 11.2, 13.1, 13.9, 14.2]],
  [23, [-6.4, -5.1, -4.3, -3.9, -3.5, -3.1, -2.7, -2.3, -1.9, -1.5, -1.1, -0.7, -0.3, 0.1, 2.6, 2.9, 8.3, 8.7, 9.1]],
  [22, [-9.5, -5.5, -5, -3.5, -2.2, -0.3, 0.1, 0.4, 1.4, 6.5]],
  [21, [-12, -7.4, -5.8, -5.5, -4.2, -2.7, -1.9, -1.2, -0.8, 1.7, 2.4]],
  [20, [-8.4, -5.7, -4.9, -4.2, 1, 1.5, 2.1, 3.4, 11.1]],
  [19, [-6.5, -2.3, -1.3, -0.3, 3.9, 8.6, 9]],
  [18, [-8.6, -8.2, -5.1, -3.1, -2.2, -1.8, 11.6]],
  [17, [-8.7, -2.6, 7.6, 13.5]],
  [16, [-3.8, -2, 11.6]],
  [15, [-3]],
  [13, [-8.7, -5.6]],
  [12, [-4.8]],
  [11, [-4.1]],
  [10, [-4.3]],
  [9, [-3.9]]
];

const panelRows = [rowsA, rowsB, rowsC, rowsD, rowsE, rowsF, rowsG, rowsH, rowsI];

// ---- layout (pixels) ----
// plot boxes [left, top, right, bottom]
const boxes = [
  [159, 25, 1277, 1154], [1454.5, 25, 2573, 1154], [2750, 25, 3869.6, 1154],
  [149.7, 1321, 1272, 2450], [1454.5, 1321, 2572, 2450], [2750, 1321, 3869.8, 2450],
  [149.7, 2614.5, 1271, 3745], [1446, 2614.5, 2566, 3745], [2740, 2614.5, 3859, 3745]
];
const letterPos = [[8, 16], [1324, 16], [2669, 16], [10, 1249], [1328, 1249], [2669, 1249], [4, 2631], [1324, 2631], [2670, 2631]];
const labelPos = [[212, 106], [1508, 106], [2804, 106], [212, 1404], [1508, 1404], [2804, 1409], [204, 2696], [1500, 2696], [2792, 2696]];

const FONT = '"Liberation Sans", Arial, Helvetica, sans-serif';
const INK = '#1c1c1c';
const TICK_SIZE = 47;
const NAME_SIZE = 54;
const LABEL_SIZE = 67;

const chart = echarts.init(document.getElementById('chart'), null, { renderer: 'canvas' });

const grids = [], xAxes = [], yAxes = [], series = [], titles = [];

boxes.forEach((b, i) => {
  grids.push({
    left: b[0], top: b[1], width: b[2] - b[0], height: b[3] - b[1],
    outerBoundsMode: 'none', containLabel: false
  });
  const axisCommon = {
    type: 'value',
    gridIndex: i,
    splitLine: { show: false },
    axisLine: { show: true, onZero: false, lineStyle: { color: INK, width: 2.6 } },
    nameTextStyle: { fontFamily: FONT, fontSize: NAME_SIZE, color: INK, lineHeight: NAME_SIZE }
  };
  xAxes.push(Object.assign({}, axisCommon, {
    min: xLimits[i][0], max: xLimits[i][1],
    name: xTitles[i], nameLocation: 'middle', nameGap: 69,
    axisTick: { show: true, length: 9, lineStyle: { color: INK, width: 2.6 }, customValues: xTicks[i] },
    axisLabel: { fontFamily: FONT, fontSize: TICK_SIZE, color: INK, margin: 20, lineHeight: TICK_SIZE, customValues: xTicks[i] }
  }));
  yAxes.push(Object.assign({}, axisCommon, {
    min: mmseLimits[0], max: mmseLimits[1],
    name: 'MMSE', nameLocation: 'middle', nameGap: 86, nameRotate: 90,
    axisTick: { show: true, length: 9, lineStyle: { color: INK, width: 2.6 }, customValues: mmseTicks },
    axisLabel: { fontFamily: FONT, fontSize: TICK_SIZE, color: INK, margin: 18, customValues: mmseTicks }
  }));

  // points
  const pts = [];
  panelRows[i].forEach(([y, xs]) => xs.forEach(x => pts.push([x, y])));
  series.push({
    type: 'scatter', xAxisIndex: i, yAxisIndex: i, data: pts,
    symbol: 'circle', symbolSize: 22, silent: true, z: 2, large: false,
    itemStyle: { color: 'rgba(0,0,0,0.87)', opacity: 1 }
  });

  // confidence band around the fit
  const f = fitLines[i];
  const fitAt = x => f[1] + (f[3] - f[1]) * (x - f[0]) / (f[2] - f[0]);
  const upper = bandWidths[i].map(([x, h]) => [x, fitAt(x) + h]);
  const lower = bandWidths[i].map(([x, h]) => [x, fitAt(x) - h]).reverse();
  const ring = upper.concat(lower);
  series.push({
    type: 'custom', xAxisIndex: i, yAxisIndex: i, silent: true, z: 3,
    data: [[f[0], f[1]]],
    renderItem: (params, api) => ({
      type: 'polygon',
      shape: { points: ring.map(p => api.coord(p)) },
      style: { fill: 'rgba(204,210,218,0.34)', stroke: null }
    })
  });

  // fitted line
  series.push({
    type: 'line', xAxisIndex: i, yAxisIndex: i, silent: true, z: 4,
    data: [[f[0], f[1]], [f[2], f[3]]],
    showSymbol: false, symbol: 'none',
    lineStyle: { color: '#3450a2', width: 6.5 }
  });

  titles.push({
    text: letters[i], left: letterPos[i][0], top: letterPos[i][1], padding: 0,
    textStyle: { fontFamily: FONT, fontSize: 58, fontWeight: 'bold', color: '#000', lineHeight: 58 }
  });
  titles.push({
    text: '{it|R} = ' + rValues[i] + ' , {it|p} ' + pValues[i],
    left: labelPos[i][0], top: labelPos[i][1] - LABEL_SIZE / 2, padding: 0,
    textStyle: {
      fontFamily: FONT, fontSize: LABEL_SIZE, fontWeight: 'normal', color: INK, lineHeight: LABEL_SIZE,
      rich: { it: { fontFamily: FONT, fontSize: LABEL_SIZE, fontStyle: 'italic', color: INK, lineHeight: LABEL_SIZE } }
    }
  });
});

chart.setOption({
  backgroundColor: '#ffffff',
  animation: false,
  title: titles,
  grid: grids,
  xAxis: xAxes,
  yAxis: yAxes,
  series: series
});
</script>
</body>
</html>
